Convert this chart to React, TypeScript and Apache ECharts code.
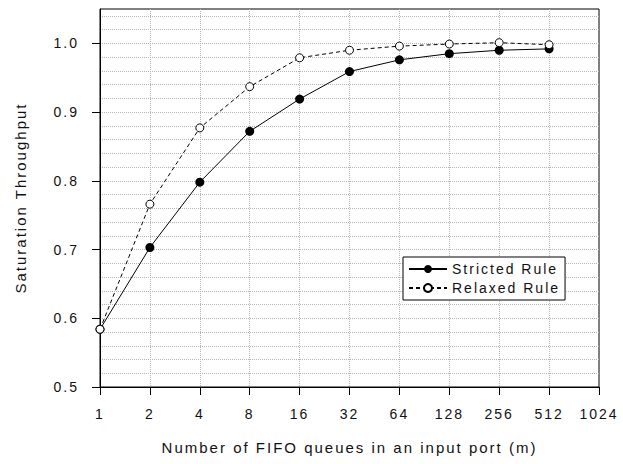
import React, { useEffect, useRef } from "react";
import * as echarts from "echarts";

const queueCounts = [1, 2, 4, 8, 16, 32, 64, 128, 256, 512];
const strictedRule = [0.584, 0.703, 0.798, 0.872, 0.919, 0.959, 0.976, 0.985, 0.99, 0.992];
const relaxedRule = [0.584, 0.766, 0.877, 0.937, 0.979, 0.99, 0.996, 0.999, 1.001, 0.998];
const yTickLabels = [0.5, 0.6, 0.7, 0.8, 0.9, 1.0];
const seriesNames = ["Stricted Rule", "Relaxed Rule"];
const xAxisTitle = "Number of FIFO queues in an input port (m)";
const yAxisTitle = "Saturation Throughput";

const FONT = "'Liberation Sans', Arial, Helvetica, sans-serif";
const TEXT = "#111";

export default function App() {
  const ref = useRef<HTMLDivElement>(null);

  useEffect(() => {
    if (!ref.current) return;
    const chart = echarts.init(ref.current, null, { renderer: "svg" });
    const gridLine = {
      show: true,
      showMinLine: false,
      showMaxLine: false,
      lineStyle: { color: "#b4b4b4", type: [1, 1] as number[], width: 1 },
    };
    const option: any = {
      animation: false,
      backgroundColor: "#fff",
      grid: {
        left: 100,
        right: 24,
        top: 9,
        bottom: 77,
        show: true,
        borderColor: "#000",
        borderWidth: 1,
        backgroundColor: "transparent",
      },
      xAxis: {
        type: "log",
        logBase: 2,
        min: 1,
        max: 1024,
        interval: 1,
        splitNumber: 10,
        name: xAxisTitle,
        nameLocation: "middle",
        nameGap: 53,
        nameTextStyle: { fontSize: 15, color: TEXT, fontFamily: FONT },
        axisLine: { show: true, lineStyle: { color: "#000", width: 1 } },
        axisTick: { show: true, length: 8, lineStyle: { color: "#000", width: 1 } },
        axisLabel: {
          fontSize: 14,
          margin: 20,
          color: TEXT,
          fontFamily: FONT,
          formatter: (v: number) => String(Math.round(v)),
        },
        splitLine: gridLine,
      },
      yAxis: [
        {
          type: "value",
          position: "left",
          min: 0.5,
          max: 1.05,
          interval: 0.1,
          name: yAxisTitle,
          nameLocation: "middle",
          nameGap: 72,
          nameTextStyle: { fontSize: 15, color: TEXT, fontFamily: FONT },
          axisLine: { show: true, lineStyle: { color: "#000", width: 1 } },
          axisTick: {
            show: true,
            length: 8,
            customValues: yTickLabels,
            lineStyle: { color: "#000", width: 1 },
          },
          axisLabel: {
            fontSize: 14,
            margin: 21,
            color: TEXT,
            fontFamily: FONT,
            customValues: yTickLabels,
            formatter: (v: number) => v.toFixed(1),
          },
          splitLine: { show: false },
        },
        {
          type: "value",
          position: "left",
          min: 0.5,
          max: 1.05,
          interval: 0.02,
          axisLine: { show: false },
          axisTick: { show: false },
          axisLabel: { show: false },
          splitLine: gridLine,
        },
      ],
      legend: {
        orient: "vertical",
        left: 403,
        top: 257,
        itemWidth: 38,
        itemHeight: 10,
        itemGap: 5,
        padding: [5, 29, 5, 5],
        borderColor: "#000",
        borderWidth: 1,
        borderRadius: 0,
        backgroundColor: "#fff",
        textStyle: { fontSize: 14, color: TEXT, fontFamily: FONT },
        data: seriesNames,
      },
      series: [
        {
          name: seriesNames[0],
          type: "line",
          yAxisIndex: 0,
          data: queueCounts.map((m, i) => [m, strictedRule[i]]),
          symbol: "circle",
          symbolSize: 9,
          lineStyle: { color: "#000", width: 1, type: "solid" },
          itemStyle: { color: "#000", borderColor: "#000", borderWidth: 0 },
          z: 3,
        },
        {
          name: seriesNames[1],
          type: "line",
          yAxisIndex: 0,
          data: queueCounts.map((m, i) => [m, relaxedRule[i]]),
          symbol: "circle",
          symbolSize: 8,
          lineStyle: { color: "#000", width: 1, type: [4, 3] },
          itemStyle: { color: "#fff", borderColor: "#000", borderWidth: 1 },
          z: 4,
        },
      ],
    };
    chart.setOption(option);
    return () => chart.dispose();
  }, []);

  return (
    <>
      <style>{"#chart-root svg text { letter-spacing: 2px; }"}</style>
      <div
        id="chart-root"
        ref={ref}
        style={{ position: "fixed", left: 0, top: 0, width: 623, height: 464 }}
      />
    </>
  );
}
